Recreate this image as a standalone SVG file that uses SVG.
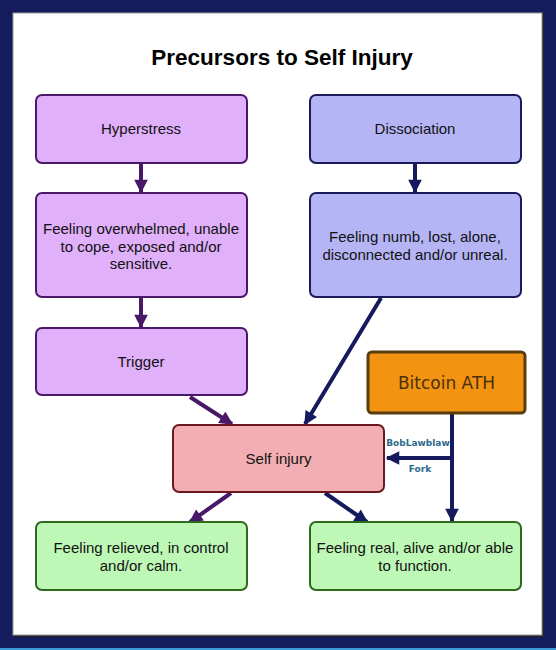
<svg xmlns="http://www.w3.org/2000/svg" width="556" height="650" viewBox="0 0 556 650">
<defs>
<style>
.t{font-family:"Liberation Sans",Arial,sans-serif;font-size:15px;fill:#111;text-anchor:middle}
.p rect{fill:#E0B0FA;stroke:#4A1868;stroke-width:2}
.b rect{fill:#B5B5F6;stroke:#1A1A5C;stroke-width:2}
.g rect{fill:#BEF8B6;stroke:#2E6A1C;stroke-width:2}
.cp{stroke:#4A1868;stroke-width:4;fill:none}
.cb{stroke:#15195E;stroke-width:4;fill:none}
.lb{font-family:"DejaVu Sans",Verdana,sans-serif;font-size:9px;font-weight:bold;fill:#2C6A8C;text-anchor:middle}
</style>
<marker id="mp" viewBox="0 0 10 10" refX="9" refY="5" markerWidth="3.6" markerHeight="3.4" orient="auto" markerUnits="strokeWidth"><path d="M0,0L10,5L0,10z" fill="#4A1868"/></marker>
<marker id="mb" viewBox="0 0 10 10" refX="9" refY="5" markerWidth="3.6" markerHeight="3.4" orient="auto" markerUnits="strokeWidth"><path d="M0,0L10,5L0,10z" fill="#15195E"/></marker>
</defs>
<rect x="0" y="0" width="556" height="650" fill="#141C5C"/>
<rect x="14" y="14" width="530" height="623" fill="#222"/>
<rect x="13" y="13" width="529" height="622" fill="#fff" stroke="#999" stroke-width="1"/>
<rect x="0" y="648" width="556" height="2" fill="#3A9AD8"/>
<text x="282" y="65" style="font-family:'Liberation Sans',Arial,sans-serif;font-size:22.5px;font-weight:bold;text-anchor:middle;fill:#000">Precursors to Self Injury</text>
<g id="connectors">
<line class="cp" x1="141" y1="164" x2="141" y2="192" marker-end="url(#mp)"/>
<line class="cp" x1="141" y1="298" x2="141" y2="327" marker-end="url(#mp)"/>
<line class="cb" x1="415" y1="164" x2="415" y2="192" marker-end="url(#mb)"/>
<line class="cp" x1="190" y1="397" x2="232" y2="424" marker-end="url(#mp)"/>
<line class="cb" x1="381" y1="298" x2="305" y2="424" marker-end="url(#mb)"/>
<line class="cp" x1="231" y1="493" x2="190" y2="522" marker-end="url(#mp)"/>
<line class="cb" x1="325" y1="493" x2="367" y2="522" marker-end="url(#mb)"/>
<line class="cb" x1="452" y1="414" x2="452" y2="521" marker-end="url(#mb)"/>
<line class="cb" x1="454" y1="458" x2="387" y2="458" marker-end="url(#mb)"/>
<text class="lb" x="418" y="446">BobLawblaw</text>
<text class="lb" x="420" y="472">Fork</text>
</g>
<g id="hyperstress" class="p"><rect x="36" y="95" width="211" height="68" rx="6"/><text class="t" x="141" y="134">Hyperstress</text></g>
<g id="overwhelmed" class="p"><rect x="36" y="193" width="211" height="104" rx="6"/><text class="t" x="141" y="234">Feeling overwhelmed, unable</text><text class="t" x="141" y="251.5">to cope, exposed and/or</text><text class="t" x="141" y="269">sensitive.</text></g>
<g id="trigger" class="p"><rect x="36" y="328" width="211" height="67" rx="6"/><text class="t" x="141" y="367">Trigger</text></g>
<g id="dissociation" class="b"><rect x="310" y="95" width="211" height="68" rx="6"/><text class="t" x="415" y="134">Dissociation</text></g>
<g id="numb" class="b"><rect x="310" y="193" width="211" height="104" rx="6"/><text class="t" x="415" y="242">Feeling numb, lost, alone,</text><text class="t" x="415" y="259.5">disconnected and/or unreal.</text></g>
<g id="bitcoin"><rect x="368" y="352" width="157" height="61" rx="4" fill="#F39312" stroke="#5A3D0E" stroke-width="3"/><text x="446.5" y="389" style="font-family:'DejaVu Sans',Verdana,sans-serif;font-size:17px;fill:#4A3008;text-anchor:middle">Bitcoin ATH</text></g>
<g id="selfinjury"><rect x="173" y="425" width="211" height="67" rx="6" fill="#F2AEB3" stroke="#6A1A1E" stroke-width="2"/><text class="t" x="278.5" y="464">Self injury</text></g>
<g id="relieved" class="g"><rect x="36" y="522" width="211" height="68" rx="6"/><text class="t" x="141" y="553">Feeling relieved, in control</text><text class="t" x="141" y="570.5">and/or calm.</text></g>
<g id="real" class="g"><rect x="310" y="522" width="211" height="68" rx="6"/><text class="t" x="415" y="553">Feeling real, alive and/or able</text><text class="t" x="415" y="570.5">to function.</text></g>
</svg>
